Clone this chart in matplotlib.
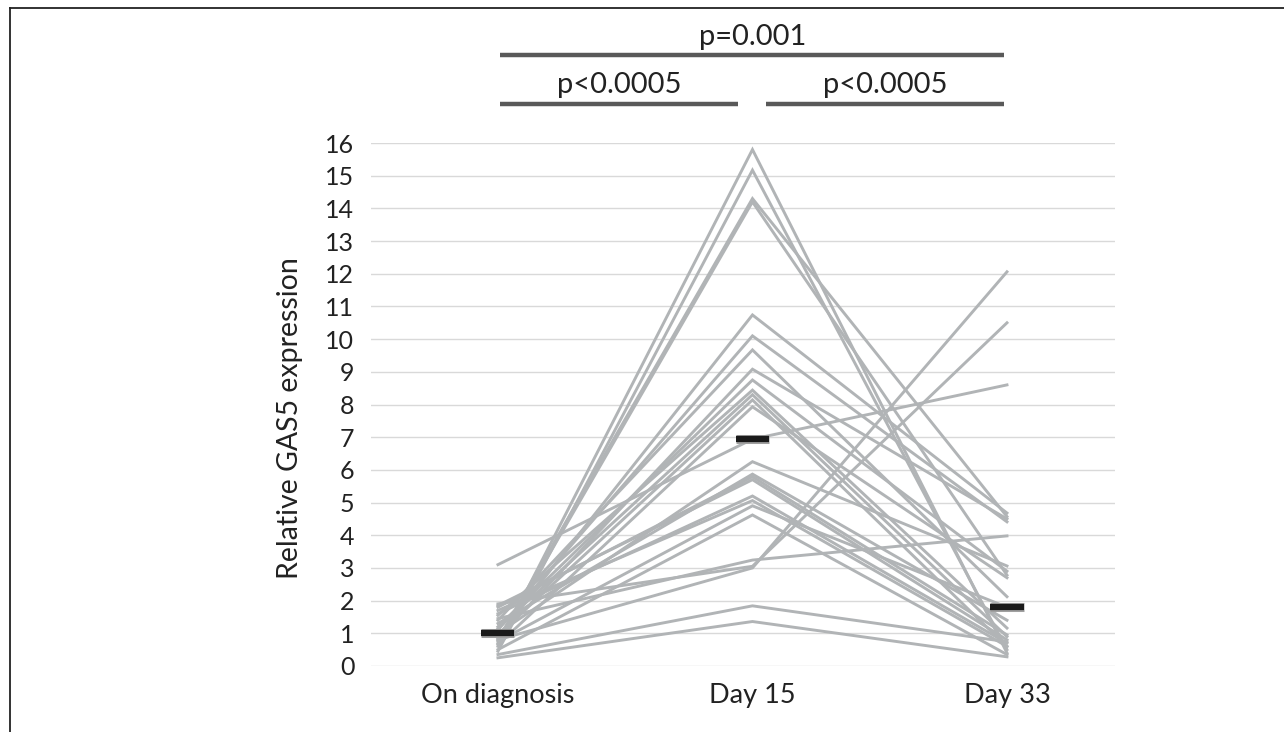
import matplotlib
matplotlib.use("Agg")
import matplotlib.pyplot as plt
import matplotlib.patheffects as pe
from matplotlib.lines import Line2D
import numpy as np

plt.rcParams['font.family'] = ['Lato', 'DejaVu Sans']

# time points
categories = ["On diagnosis", "Day 15", "Day 33"]

# relative GAS5 expression per patient
on_diagnosis = [0.60, 0.45, 0.80, 0.70, 0.90, 1.10, 1.40, 0.85, 1.20, 1.55,
                1.15, 0.95, 0.65, 3.10, 1.00, 1.30, 1.80, 1.85, 1.60, 1.70,
                0.75, 0.50, 1.45, 1.90, 0.80, 0.35, 0.25]
day_15 = [15.80, 15.17, 14.30, 14.20, 10.74, 10.10, 9.67, 9.08, 8.75, 8.44,
          8.30, 8.14, 7.93, 6.94, 6.25, 5.87, 5.79, 5.70, 5.20, 5.06,
          4.90, 4.62, 3.24, 3.05, 3.00, 1.84, 1.36]
day_33 = [0.40, 0.50, 4.57, 2.78, 4.68, 4.41, 2.12, 4.50, 2.90, 1.16,
          0.90, 0.59, 2.70, 8.60, 3.06, 1.40, 0.95, 0.80, 0.70, 0.60,
          1.80, 0.35, 3.98, 10.50, 12.06, 0.74, 0.28]

tick_values = list(range(0, 17))

# significance annotations
sig_labels = ["p=0.001", "p<0.0005", "p<0.0005"]

fig = plt.figure(figsize=(12.84, 7.32), dpi=100)
ax = fig.add_axes([0.2889, 0.0902, 0.5794, 0.7144])

xs = np.arange(len(categories))
data = np.array([on_diagnosis, day_15, day_33])
for i in range(data.shape[1]):
    ax.plot(xs, data[:, i], color='#b1b4b6', lw=2.1, solid_joinstyle='miter', zorder=2)

medians = np.median(data, axis=1)
for x, m in zip(xs, medians):
    ax.plot([x - 0.065, x + 0.065], [m, m], color='#1a1a1a', lw=4.5, solid_capstyle='butt', zorder=5,
            path_effects=[pe.Stroke(linewidth=6.5, foreground='#a0a0a0'), pe.Normal()])

ax.set_ylim(0, 16)
ax.set_xlim(-0.499, 2.424)
ax.set_yticks(tick_values)
ax.set_xticks(xs)
ax.set_xticklabels(categories, fontsize=19.5, color='#222222')
ax.tick_params(axis='y', labelsize=18, colors='#222222', length=0, pad=12)
ax.tick_params(axis='x', length=0, pad=12)
ax.grid(axis='y', color='#d9d9d9', lw=1)
ax.set_axisbelow(True)
for s in ax.spines.values():
    s.set_visible(False)
ax.set_ylabel("Relative GAS5 expression", fontsize=20.5, color='#222222', labelpad=16)
ax.yaxis.label.set_y(0.475)

# significance bars
bar_kw = dict(color='#595959', lw=3.2, solid_capstyle='butt', clip_on=False)
ax.plot([0.008, 1.99], [18.69, 18.69], **bar_kw)
ax.plot([0.008, 0.943], [17.19, 17.19], **bar_kw)
ax.plot([1.053, 1.99], [17.19, 17.19], **bar_kw)
ax.text(1.0, 19.24, sig_labels[0], ha='center', va='center', fontsize=21, color='#222222')
ax.text(0.475, 17.77, sig_labels[1], ha='center', va='center', fontsize=21, color='#222222')
ax.text(1.52, 17.77, sig_labels[2], ha='center', va='center', fontsize=21, color='#222222')

# frame lines at left and top
fig.add_artist(Line2D([10 / 1284, 10 / 1284], [0, 1 - 8 / 732], color='#222222', lw=1.3))
fig.add_artist(Line2D([10 / 1284, 1], [1 - 8 / 732, 1 - 8 / 732], color='#222222', lw=1.3))

fig.savefig("out.png", dpi=100)
